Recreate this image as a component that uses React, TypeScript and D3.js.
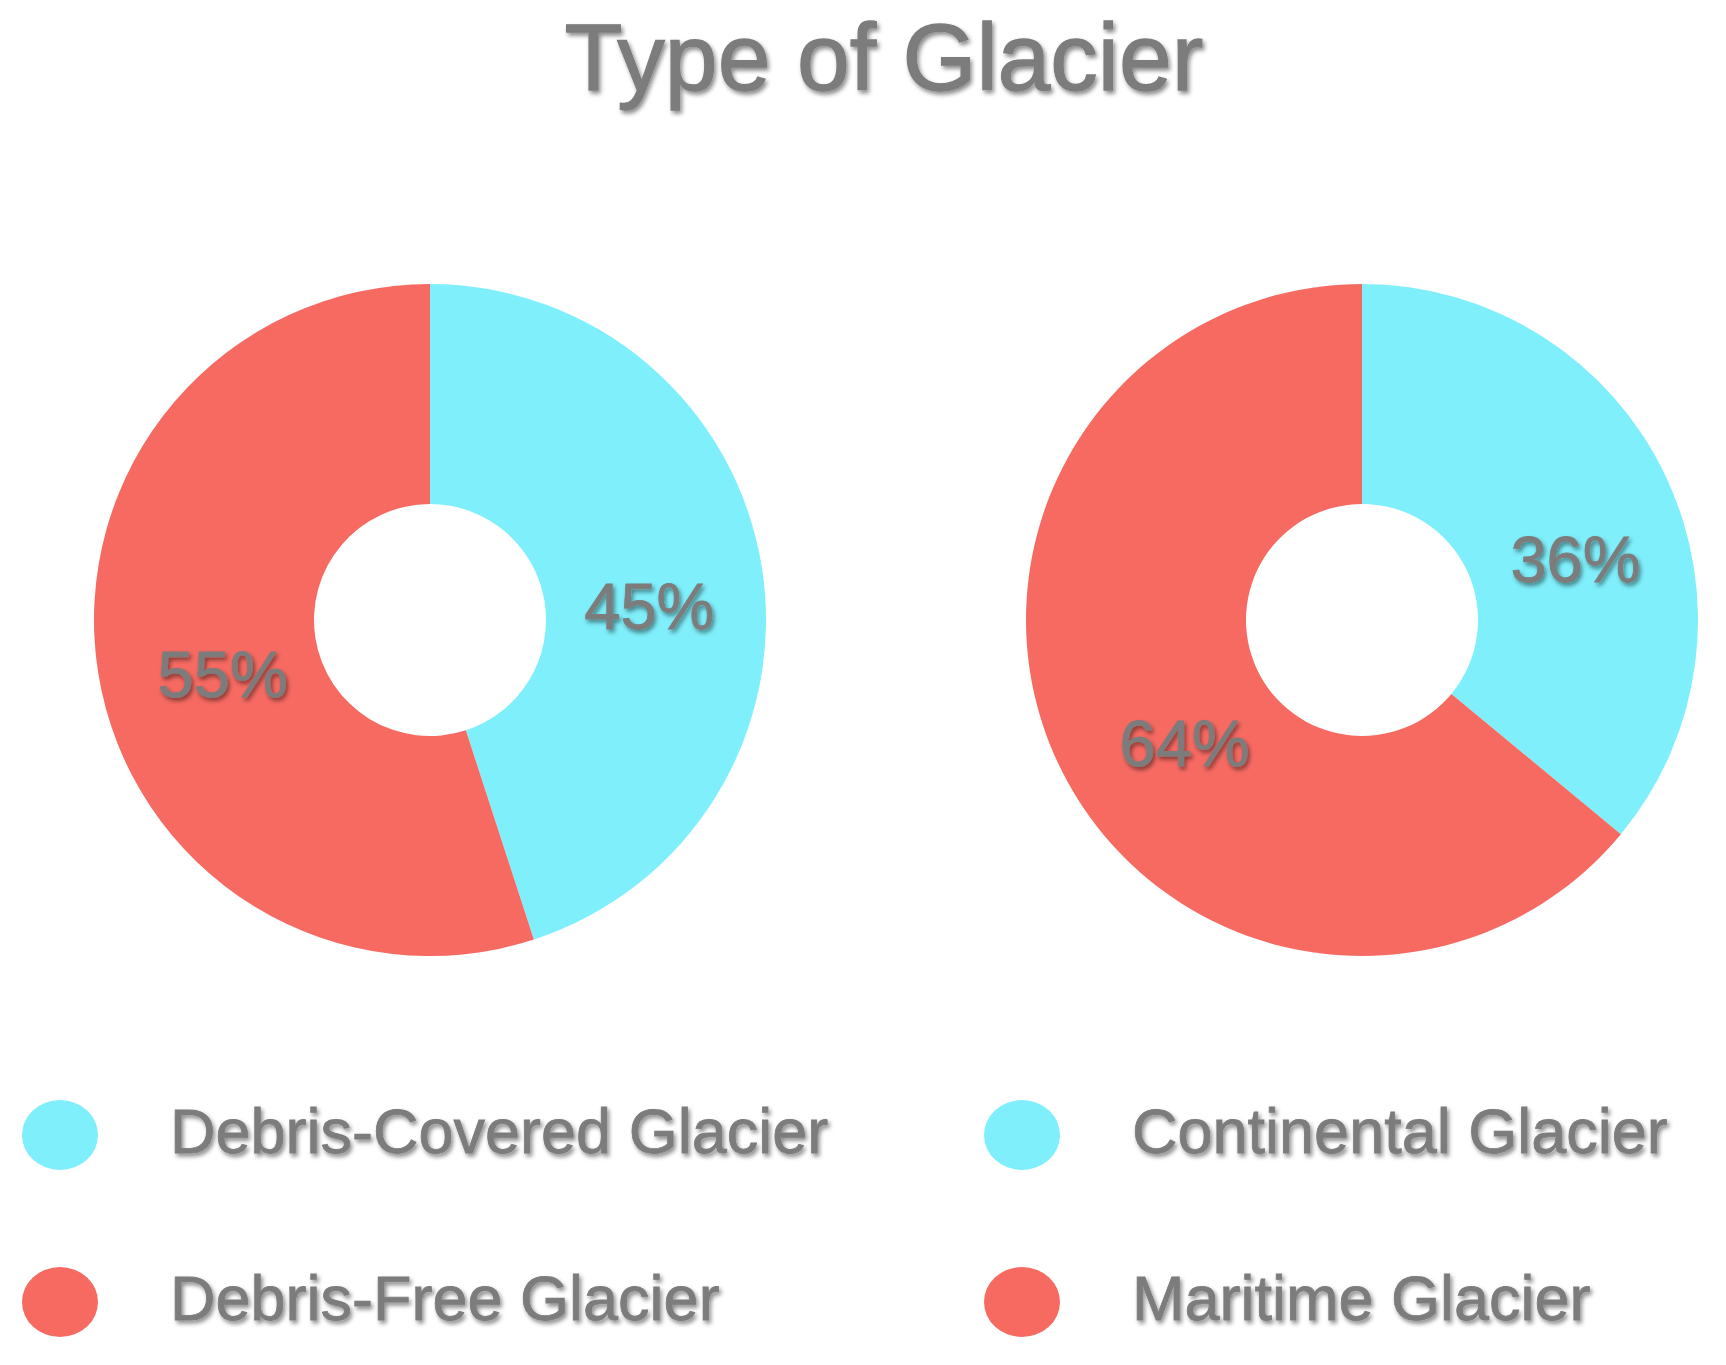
import React from "react";
import * as d3 from "d3";

const TITLE = "Type of Glacier";
const CATEGORIES_A = ["Debris-Covered Glacier", "Debris-Free Glacier"];
const VALUES_A = [45, 55];
const CATEGORIES_B = ["Continental Glacier", "Maritime Glacier"];
const VALUES_B = [36, 64];
const COLORS = ["#7FEFFB", "#F66A62"];

const W = 1726;
const H = 1365;
const OUTER = 336;
const INNER = 116;
const LABEL_R = 216;
const TEXT_FILL = "#7c7c7c";
const FONT = "'Liberation Sans', Arial, sans-serif";

function Donut({
  cx,
  cy,
  values,
  ldx,
  ldy,
}: {
  cx: number;
  cy: number;
  values: number[];
  ldx: number;
  ldy: number;
}) {
  const pie = d3.pie<number>().sort(null).value((d) => d);
  const arcs = pie(values);
  const arc = d3.arc<d3.PieArcDatum<number>>().innerRadius(INNER).outerRadius(OUTER);
  const labelArc = d3.arc<d3.PieArcDatum<number>>().innerRadius(LABEL_R).outerRadius(LABEL_R);
  const total = d3.sum(values);
  return (
    <g transform={`translate(${cx},${cy})`}>
      {arcs.map((a, i) => (
        <path key={i} d={arc(a) || ""} fill={COLORS[i]} />
      ))}
      {arcs.map((a, i) => {
        const [x, y] = labelArc.centroid(a);
        return (
          <text
            key={"l" + i}
            x={x + ldx}
            y={y + ldy + 23}
            textAnchor="middle"
            fontSize={65}
            fontFamily={FONT}
            fill={TEXT_FILL}
            stroke={TEXT_FILL}
            strokeWidth={0.8}
            filter="url(#shadow)"
          >
            {Math.round((a.data / total) * 100) + "%"}
          </text>
        );
      })}
    </g>
  );
}

function Legend({ x, items }: { x: number; items: string[] }) {
  const ys = [1135, 1302];
  return (
    <g>
      {items.map((name, i) => (
        <g key={name}>
          <ellipse cx={x} cy={ys[i]} rx={38} ry={35} fill={COLORS[i]} />
          <text
            x={x + 110}
            y={ys[i] + 18}
            fontSize={63}
            fontFamily={FONT}
            fill={TEXT_FILL}
            stroke={TEXT_FILL}
            strokeWidth={0.8}
            filter="url(#shadow)"
          >
            {name}
          </text>
        </g>
      ))}
    </g>
  );
}

export default function App() {
  return (
    <svg
      width={W}
      height={H}
      style={{ position: "absolute", left: 0, top: 0, display: "block", background: "#fff" }}
    >
      <defs>
        <filter id="shadow" x="-10%" y="-20%" width="130%" height="160%">
          <feDropShadow dx={2} dy={3} stdDeviation={2.2} floodColor="#000" floodOpacity={0.45} />
        </filter>
      </defs>
      <rect width={W} height={H} fill="#fff" />
      <text
        x={884}
        y={90}
        textAnchor="middle"
        fontSize={95}
        fontFamily={FONT}
        fill={TEXT_FILL}
        stroke={TEXT_FILL}
        strokeWidth={1.3}
        filter="url(#shadow)"
      >
        {TITLE}
      </text>
      <Donut cx={430} cy={620} values={VALUES_A} ldx={6} ldy={20} />
      <Donut cx={1362} cy={620} values={VALUES_B} ldx={18} ldy={31} />
      <Legend x={60} items={CATEGORIES_A} />
      <Legend x={1022} items={CATEGORIES_B} />
    </svg>
  );
}
